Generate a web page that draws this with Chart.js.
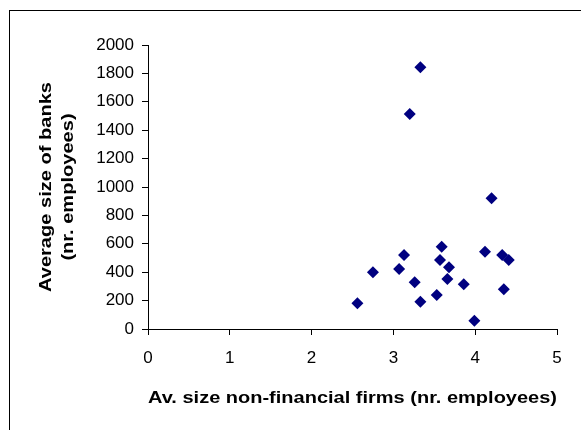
<!DOCTYPE html>
<html>
<head>
<meta charset="utf-8">
<script src="https://cdn.jsdelivr.net/npm/chart.js@4"></script>
<style>
  html, body { margin: 0; padding: 0; background: #fff; }
  #wrap { width: 581px; height: 430px; }
</style>
</head>
<body>
<div id="wrap"><canvas id="c" width="581" height="430"></canvas></div>
<script>
const xValues = [3.33, 3.20, 4.20, 3.59, 4.12, 3.13, 4.33, 4.41, 3.57, 3.68, 2.75, 3.07, 3.66, 3.26, 3.86, 4.35, 3.53, 2.56, 3.33, 3.99];
const yValues = [1843, 1514, 920, 580, 544, 521, 521, 486, 486, 434, 399, 423, 352, 329, 315, 280, 239, 181, 192, 58];
const xTicks = [0, 1, 2, 3, 4, 5];
const yTicks = [0, 200, 400, 600, 800, 1000, 1200, 1400, 1600, 1800, 2000];
const xTitle = "Av. size non-financial firms (nr. employees)";
const yTitle = ["Average size of banks", "(nr. employees)"];

const points = xValues.map((x, i) => ({ x: x, y: yValues[i] }));
const FONT = "'Liberation Sans', Arial, sans-serif";

function stretchedText(ctx, text, x, y, targetWidth) {
  const w = ctx.measureText(text).width;
  const sx = targetWidth / w;
  ctx.save();
  ctx.translate(x, y);
  ctx.scale(sx, 1);
  ctx.fillText(text, 0, 0);
  ctx.restore();
}

const decor = {
  id: 'decor',
  afterDraw(chart) {
    const ctx = chart.ctx;
    const a = chart.chartArea;
    ctx.save();
    ctx.strokeStyle = '#000';
    ctx.lineWidth = 1;
    ctx.strokeRect(9.5, 10.5, 700, 600);
    ctx.fillStyle = '#000';
    ctx.font = 'bold 17px ' + FONT;
    ctx.textAlign = 'center';
    ctx.textBaseline = 'middle';
    stretchedText(ctx, xTitle, (a.left + a.right) / 2, 398, a.right - a.left);
    ctx.translate(57, (a.top + a.bottom) / 2);
    ctx.rotate(-Math.PI / 2);
    const w0 = ctx.measureText(yTitle[0]).width;
    const sx = 210 / w0;
    stretchedText(ctx, yTitle[0], 0, -11, 210);
    stretchedText(ctx, yTitle[1], 0, 11, ctx.measureText(yTitle[1]).width * sx);
    ctx.restore();
  }
};

new Chart(document.getElementById('c'), {
  type: 'scatter',
  data: {
    datasets: [{
      data: points,
      pointStyle: 'rectRot',
      radius: 6,
      hoverRadius: 6,
      backgroundColor: '#000080',
      borderColor: '#000080',
      borderWidth: 0
    }]
  },
  options: {
    responsive: false,
    animation: false,
    events: [],
    layout: { padding: { top: 45, right: 24, left: 0, bottom: 0 } },
    plugins: { legend: { display: false }, tooltip: { enabled: false } },
    scales: {
      x: {
        type: 'linear',
        min: 0, max: 5,
        afterBuildTicks(s) { s.ticks = xTicks.map(v => ({ value: v })); },
        afterFit(s) { s.height = 101; },
        grid: { display: true, drawOnChartArea: false, drawTicks: true, tickLength: 6, color: '#000' },
        border: { display: true, color: '#000', width: 1 },
        ticks: { color: '#000', font: { family: FONT, size: 17 }, padding: 13, maxRotation: 0, callback: v => String(v) }
      },
      y: {
        type: 'linear',
        min: 0, max: 2000,
        afterBuildTicks(s) { s.ticks = yTicks.map(v => ({ value: v })); },
        afterFit(s) { s.width = 148; },
        grid: { display: true, drawOnChartArea: false, drawTicks: true, tickLength: 6, color: '#000' },
        border: { display: true, color: '#000', width: 1 },
        ticks: { color: '#000', font: { family: FONT, size: 17 }, padding: 8, callback: v => String(v) }
      }
    }
  },
  plugins: [decor]
});
</script>
</body>
</html>
